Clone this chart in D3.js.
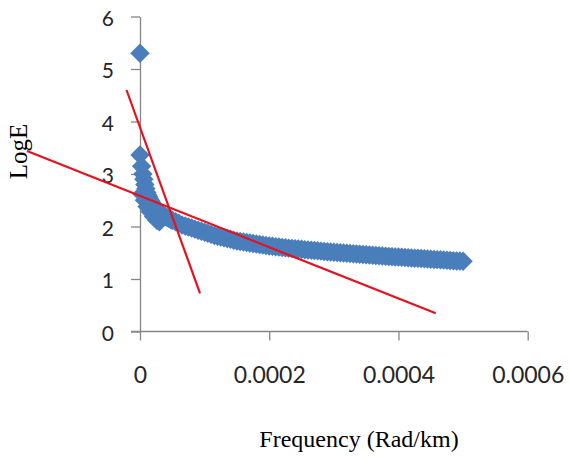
<!DOCTYPE html>
<html>
<head>
<meta charset="utf-8">
<script src="https://cdn.jsdelivr.net/npm/d3@7"></script>
<style>
  html, body { margin: 0; padding: 0; background: #fff; }
  svg { display: block; }
</style>
</head>
<body>
<svg id="chart" width="570" height="458"></svg>
<script>
// ---- data ----
const freqEarly = [0, 0, 0.0000025, 0.0000045, 0.000006, 0.0000075, 0.000009, 0.0000105, 0.000012, 0.0000135,
  0.000015, 0.000017, 0.000019, 0.000021, 0.000024, 0.000027, 0.00003, 0.000033, 0.000036, 0.000039,
  0.000042, 0.000045, 0.000048];
const logEEarly = [5.30, 3.36, 3.15, 3.0, 2.9, 2.8, 2.72, 2.65, 2.6, 2.56,
  2.52, 2.48, 2.44, 2.40, 2.35, 2.31, 2.27, 2.24, 2.21, 2.19,
  2.17, 2.15, 2.13];
const freqLow = [0.000003, 0.000007, 0.000011, 0.000016, 0.000021, 0.000026, 0.00003];
const logELow = [2.62, 2.5, 2.38, 2.28, 2.19, 2.12, 2.09];
const freqMain = [0.00005, 0.000055, 0.00006, 0.000065, 0.00007, 0.000075, 0.00008, 0.000085, 0.00009, 0.000095,
  0.0001, 0.000105, 0.00011, 0.000115, 0.00012, 0.000125, 0.00013, 0.000135, 0.00014, 0.000145,
  0.00015, 0.000155, 0.00016, 0.000165, 0.00017, 0.000175, 0.00018, 0.000185, 0.00019, 0.000195,
  0.0002, 0.000205, 0.00021, 0.000215, 0.00022, 0.000225, 0.00023, 0.000235, 0.00024, 0.000245,
  0.00025, 0.000255, 0.00026, 0.000265, 0.00027, 0.000275, 0.00028, 0.000285, 0.00029, 0.000295,
  0.0003, 0.000305, 0.00031, 0.000315, 0.00032, 0.000325, 0.00033, 0.000335, 0.00034, 0.000345,
  0.00035, 0.000355, 0.00036, 0.000365, 0.00037, 0.000375, 0.00038, 0.000385, 0.00039, 0.000395,
  0.0004, 0.000405, 0.00041, 0.000415, 0.00042, 0.000425, 0.00043, 0.000435, 0.00044, 0.000445,
  0.00045, 0.000455, 0.00046, 0.000465, 0.00047, 0.000475, 0.00048, 0.000485, 0.00049, 0.000495,
  0.0005];
const logEMain = [2.12, 2.09, 2.06, 2.03, 2.01, 1.99, 1.97, 1.95, 1.93, 1.91,
  1.89, 1.87, 1.85, 1.83, 1.815, 1.80, 1.785, 1.77, 1.755, 1.74,
  1.725, 1.715, 1.705, 1.695, 1.685, 1.675, 1.665, 1.656, 1.647, 1.638,
  1.63, 1.622, 1.615, 1.608, 1.601, 1.594, 1.588, 1.582, 1.576, 1.57,
  1.565, 1.559, 1.553, 1.548, 1.542, 1.537, 1.531, 1.526, 1.521, 1.516,
  1.511, 1.506, 1.501, 1.496, 1.491, 1.486, 1.481, 1.476, 1.471, 1.466,
  1.462, 1.457, 1.452, 1.448, 1.443, 1.439, 1.434, 1.43, 1.426, 1.421,
  1.417, 1.413, 1.409, 1.405, 1.401, 1.397, 1.393, 1.389, 1.385, 1.381,
  1.377, 1.373, 1.369, 1.365, 1.361, 1.357, 1.353, 1.349, 1.345, 1.341,
  1.337];
// fitted red lines (endpoints)
const trend1Freq = [-0.0000209, 0.0000929];
const trend1LogE = [4.60, 0.728];
const trend2Freq = [-0.0001749, 0.0004577];
const trend2LogE = [3.438, 0.347];
const xTicks = [0, 0.0002, 0.0004, 0.0006];
const yTicks = [0, 1, 2, 3, 4, 5, 6];

// ---- drawing ----
const svg = d3.select("#chart");
const x = d3.scaleLinear().domain([0, 0.0006]).range([140, 527.7]);
const y = d3.scaleLinear().domain([0, 6]).range([331.5, 16.5]);
const axisColor = "#868686";
const textColor = "#262626";

const points = [];
freqEarly.forEach((f, i) => points.push([f, logEEarly[i]]));
freqLow.forEach((f, i) => points.push([f, logELow[i]]));
freqMain.forEach((f, i) => points.push([f, logEMain[i]]));

// axes
const yAxis = d3.axisLeft(y).tickValues(yTicks).tickSize(9).tickSizeOuter(0).tickPadding(17)
  .tickFormat(d3.format("d"));
const gy = svg.append("g").attr("transform", "translate(140,0)").call(yAxis);
gy.selectAll("text").attr("dy", "0.42em");

const xAxis = d3.axisBottom(x).tickValues(xTicks).tickSize(9).tickSizeOuter(0).tickPadding(26)
  .tickFormat(d => d === 0 ? "0" : d.toFixed(4));
const gx = svg.append("g").attr("transform", "translate(0,331.5)").call(xAxis);
gx.select(".domain").attr("d", `M131,0H${x(0.0006)}`);

[gx, gy].forEach(g => {
  g.selectAll(".domain, .tick line").attr("stroke", axisColor).attr("stroke-width", 1.3);
  g.selectAll("text").attr("fill", textColor).attr("font-family", "Lato, 'Open Sans', sans-serif");
});
gy.selectAll("text").attr("font-size", 21);
gx.selectAll("text").attr("font-size", 23);

// scatter diamonds
const diamond = d3.symbol().type(d3.symbolSquare).size(190);
svg.append("g").selectAll("path").data(points).join("path")
  .attr("d", diamond)
  .attr("transform", d => `translate(${x(d[0])},${y(d[1])}) rotate(45)`)
  .attr("fill", "#4a7ebb");

// trend lines
const line = d3.line().x(d => x(d[0])).y(d => y(d[1]));
[[trend1Freq, trend1LogE], [trend2Freq, trend2LogE]].forEach(([fs, ls]) => {
  svg.append("path")
    .datum(fs.map((f, i) => [f, ls[i]]))
    .attr("d", line)
    .attr("fill", "none")
    .attr("stroke", "#e8101c")
    .attr("stroke-width", 2.2);
});

// axis titles
svg.append("text")
  .attr("transform", "translate(27,151.5) rotate(-90)")
  .attr("text-anchor", "middle")
  .attr("font-family", "'Liberation Serif', 'Times New Roman', serif")
  .attr("font-size", 25)
  .attr("fill", "#000")
  .text("LogE");

svg.append("text")
  .attr("x", 359).attr("y", 447)
  .attr("text-anchor", "middle")
  .attr("font-family", "'Liberation Serif', 'Times New Roman', serif")
  .attr("font-size", 24)
  .attr("fill", "#000")
  .text("Frequency (Rad/km)");
</script>
</body>
</html>
